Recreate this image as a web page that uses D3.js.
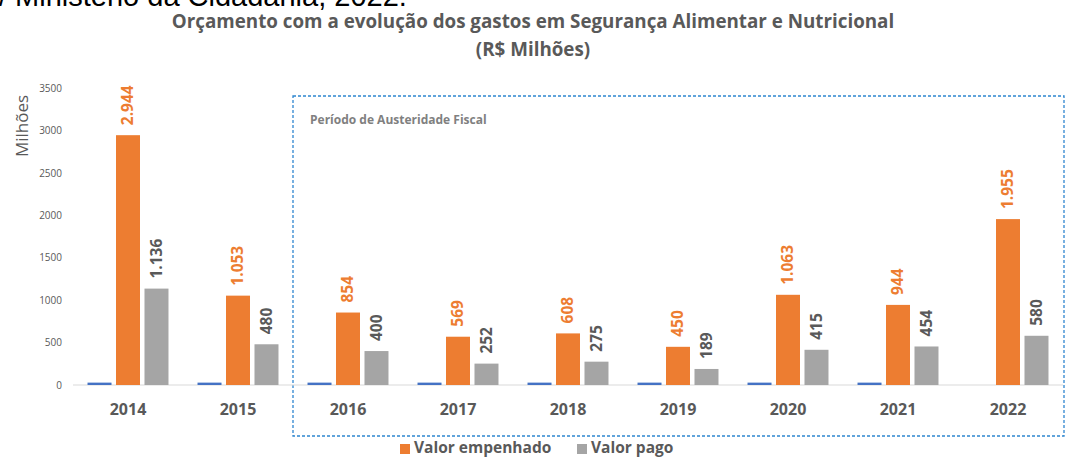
<!DOCTYPE html>
<html>
<head>
<meta charset="utf-8">
<style>
  body { margin: 0; background: #fff; }
  svg { display: block; font-family: "Open Sans", sans-serif; }
</style>
<script src="https://cdn.jsdelivr.net/npm/d3@7"></script>
</head>
<body>
<svg id="chart"></svg>
<script>
// ---- data ----
var anos = ["2014", "2015", "2016", "2017", "2018", "2019", "2020", "2021", "2022"];
var valorEmpenhado = [2944, 1053, 854, 569, 608, 450, 1063, 944, 1955];
var valorPago = [1136, 480, 400, 252, 275, 189, 415, 454, 580];
var serieSemLegenda = [28, 28, 28, 28, 28, 28, 28, 28, 0];
var yTicks = [0, 500, 1000, 1500, 2000, 2500, 3000, 3500];
var rotuloEmpenhado = ["2.944", "1.053", "854", "569", "608", "450", "1.063", "944", "1.955"];
var rotuloPago = ["1.136", "480", "400", "252", "275", "189", "415", "454", "580"];

var W = 1065, H = 457;
var ORANGE = "#ED7D31", GREY = "#A5A5A5", BLUE = "#4472C4";
var TEXT = "#595959";

var svg = d3.select("#chart").attr("width", W).attr("height", H);

// source line cut at the top
svg.append("text")
    .attr("x", -1).attr("y", 6)
    .attr("font-family", "Liberation Sans, Arial, sans-serif")
    .attr("font-size", 29)
    .attr("fill", "#000")
    .text("/ Ministério da Cidadania, 2022.");

// title
svg.append("text")
    .attr("x", 533).attr("y", 28)
    .attr("text-anchor", "middle")
    .attr("font-size", 18.8).attr("font-weight", "bold").attr("fill", TEXT)
    .text("Orçamento com a evolução dos gastos em Segurança Alimentar e Nutricional");
svg.append("text")
    .attr("x", 533).attr("y", 56)
    .attr("text-anchor", "middle")
    .attr("font-size", 18.8).attr("font-weight", "bold").attr("fill", TEXT)
    .text("(R$ Milhões)");

// scales
var x0 = d3.scaleBand().domain(anos).range([73, 1063]).paddingInner(0.264).paddingOuter(0.132);
var x1 = d3.scaleBand().domain(["s", "e", "p"]).range([0, x0.bandwidth()]).paddingInner(0.158);
var y = d3.scaleLinear().domain([0, 3500]).range([385, 88]);

// austerity period box
var boxLeft = x0("2016") - x0.step() * x0.paddingInner() / 2;
svg.append("rect")
    .attr("x", boxLeft).attr("y", 96)
    .attr("width", 1064 - boxLeft).attr("height", 340)
    .attr("fill", "none")
    .attr("stroke", "#2E86D0").attr("stroke-width", 1.3)
    .attr("stroke-dasharray", "3,2");
svg.append("text")
    .attr("x", boxLeft + 17).attr("y", 124)
    .attr("font-size", 12).attr("font-weight", "bold").attr("fill", "#808080")
    .text("Período de Austeridade Fiscal");

// y axis
var yAxis = d3.axisLeft(y).tickValues(yTicks).tickFormat(d3.format("d"))
    .tickSize(0).tickPadding(0);
var gy = svg.append("g").attr("transform", "translate(62,0)").call(yAxis);
gy.select(".domain").remove();
gy.selectAll("text").attr("font-size", 10).attr("fill", TEXT)
    .attr("font-family", "Open Sans, sans-serif");

svg.append("text")
    .attr("transform", "translate(22,126) rotate(-90)")
    .attr("text-anchor", "middle").attr("dy", "0.35em")
    .attr("font-size", 17).attr("fill", TEXT)
    .text("Milhões");

// baseline
svg.append("line")
    .attr("x1", 73).attr("x2", 1063)
    .attr("y1", y(0)).attr("y2", y(0))
    .attr("stroke", "#D9D9D9").attr("stroke-width", 1);

// bars
var groups = svg.selectAll("g.ano")
    .data(anos)
    .enter().append("g")
    .attr("class", "ano")
    .attr("transform", d => `translate(${x0(d)},0)`);

function addBars(key, values, color) {
    groups.append("rect")
        .attr("x", x1(key))
        .attr("width", x1.bandwidth())
        .attr("y", (d, i) => y(values[i]))
        .attr("height", (d, i) => y(0) - y(values[i]))
        .attr("fill", color);
}
addBars("s", serieSemLegenda, BLUE);
addBars("e", valorEmpenhado, ORANGE);
addBars("p", valorPago, GREY);

function addLabels(key, values, labels, color) {
    groups.append("text")
        .attr("transform", (d, i) =>
            `translate(${x1(key) + x1.bandwidth() / 2},${y(values[i]) - 10}) rotate(-90)`)
        .attr("dy", "0.35em")
        .attr("font-size", 15.5).attr("font-weight", "bold").attr("fill", color)
        .text((d, i) => labels[i]);
}
addLabels("e", valorEmpenhado, rotuloEmpenhado, ORANGE);
addLabels("p", valorPago, rotuloPago, TEXT);

// x labels
groups.append("text")
    .attr("x", x0.bandwidth() / 2).attr("y", 415)
    .attr("text-anchor", "middle")
    .attr("font-size", 16).attr("font-weight", "bold").attr("fill", TEXT)
    .text(d => d);

// legend
var legend = [
    {name: "Valor empenhado", color: ORANGE, x: 400},
    {name: "Valor pago", color: GREY, x: 577}
];
var lg = svg.selectAll("g.legend").data(legend).enter().append("g")
    .attr("class", "legend")
    .attr("transform", d => `translate(${d.x},444)`);
lg.append("rect").attr("width", 10).attr("height", 10).attr("fill", d => d.color);
lg.append("text")
    .attr("x", 14).attr("y", 9)
    .attr("font-size", 15.5).attr("font-weight", "bold").attr("fill", TEXT)
    .text(d => d.name);
</script>
</body>
</html>
